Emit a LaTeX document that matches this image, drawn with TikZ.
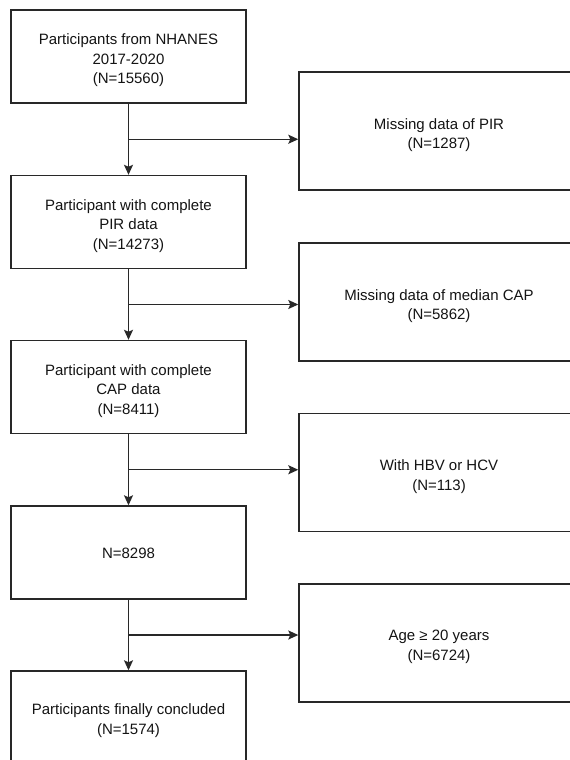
\documentclass[tikz,border=0pt]{standalone}
\usepackage{fontspec}
\setmainfont{Liberation Sans}
\usetikzlibrary{arrows.meta,calc}
\definecolor{linec}{RGB}{40,40,40}
\definecolor{textc}{RGB}{20,20,20}
\begin{document}
\begin{tikzpicture}[x=1pt,y=-1pt,
  txt/.style={font=\fontsize{15}{19.5}\selectfont, text=textc, align=center, inner sep=0pt},
  lbox/.style={draw=linec, line width=1.4pt, minimum width=235pt, minimum height=93pt, inner sep=0pt},
  rbox/.style={draw=linec, line width=1.4pt, minimum width=280pt, minimum height=118pt, inner sep=0pt},
  conn/.style={draw=linec, line width=1.4pt},
  arr/.style={conn, -{Stealth[length=10pt,width=9pt,inset=2pt]}}]
\useasboundingbox (0,0) rectangle (570,760);
\fill[white] (0,0) rectangle (570,760);
\clip (0,0) rectangle (570,760);

\node[lbox] (b1) at (128.5,56.5) {};
\node[lbox] (b2) at (128.5,222) {};
\node[lbox] (b3) at (128.5,387) {};
\node[lbox] (b4) at (128.5,552.5) {};
\node[lbox] (b5) at (128.5,717.5) {};
\node[rbox] (r1) at (439,131) {};
\node[rbox] (r2) at (439,302) {};
\node[rbox] (r3) at (439,472.5) {};
\node[rbox] (r4) at (439,643) {};

\node[txt] (tb1) at ([yshift=-4pt]b1.center) {Participants from NHANES\\2017-2020\\(N=15560)};
\node[txt] (tb2) at ([yshift=-4pt]b2.center) {Participant with complete\\PIR data\\(N=14273)};
\node[txt] (tb3) at ([yshift=-4pt]b3.center) {Participant with complete\\CAP data\\(N=8411)};
\node[txt] (tb4) at ([yshift=-1pt]b4.center) {N=8298};
\node[txt] (tb5) at ([yshift=-3pt]b5.center) {Participants finally concluded\\(N=1574)};
\node[txt] (tr1) at ([yshift=-4pt]r1.center) {Missing data of PIR\\(N=1287)};
\node[txt] (tr2) at ([yshift=-4pt]r2.center) {Missing data of median CAP\\(N=5862)};
\node[txt] (tr3) at ([yshift=-4pt]r3.center) {With HBV or HCV\\(N=113)};
\node[txt] (tr4) at ([yshift=-4pt]r4.center) {Age ≥ 20 years\\(N=6724)};

\foreach \a/\b/\r in {b1/b2/r1, b2/b3/r2, b3/b4/r3, b4/b5/r4}{
  \coordinate (j\a) at ($(\a.south)!0.5!(\b.north)$);
  \draw[arr] (\a.south) -- (\b.north);
  \draw[arr] (j\a) -- (j\a -| \r.west);
}
\end{tikzpicture}
\end{document}
